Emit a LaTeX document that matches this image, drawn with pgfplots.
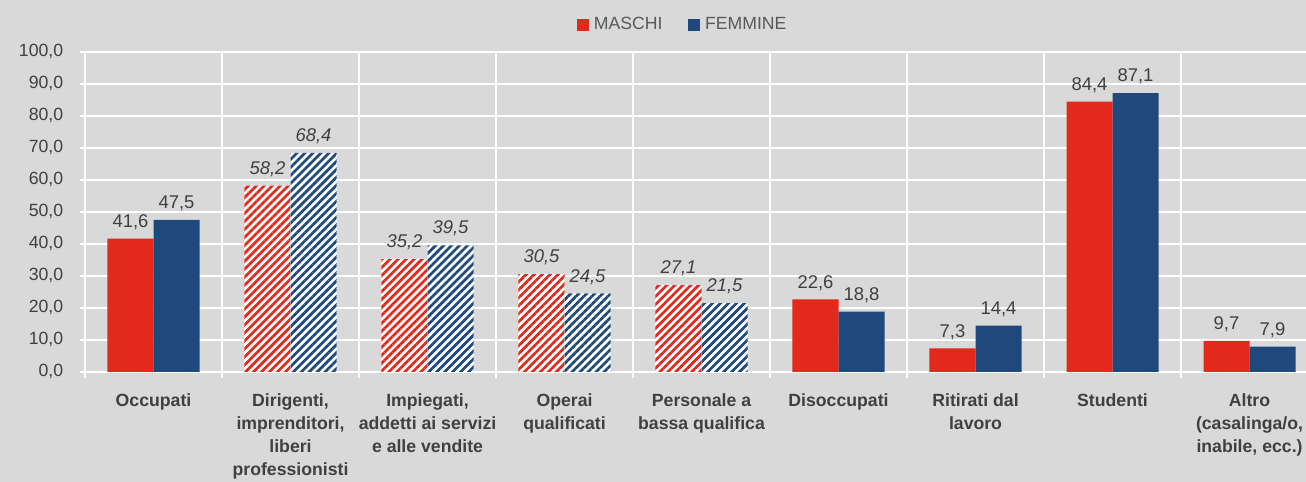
\documentclass[border=0pt]{standalone}
\usepackage{fontspec}
\setmainfont{Liberation Sans}
\usepackage{pgfplots}
\pgfplotsset{compat=1.18}
\usetikzlibrary{patterns.meta}
\definecolor{bgG}{HTML}{D9D9D9}
\definecolor{mRed}{HTML}{E3281C}
\definecolor{fBlue}{HTML}{1F497D}
\definecolor{inkD}{HTML}{404040}
\definecolor{inkL}{HTML}{595959}
\tikzset{
  hatchR/.style={fill=white, draw=none, postaction={pattern={Lines[angle=45,distance=2.2pt,line width=1.05pt]}, pattern color=mRed}},
  hatchB/.style={fill=white, draw=none, postaction={pattern={Lines[angle=45,distance=2.2pt,line width=1.05pt]}, pattern color=fBlue}},
}
\begin{document}
\begin{tikzpicture}
\fill[bgG] (-33.2pt,-43pt) rectangle (476.8pt,145.2pt);
\begin{axis}[
    at={(0,0)}, anchor=south west,
    scale only axis, width=481.5pt, height=125pt,
    xmin=-0.5, xmax=8.5, ymin=0, ymax=100,
    axis x line*=bottom, axis y line*=left,
    axis line style={white, line width=0.8pt, -},
    ytick={0,10,...,100},
    ymajorgrids, grid style={white, line width=0.6pt},
    tick align=outside, major tick length=2pt, minor tick length=2.5pt,
    every tick/.append style={white, line width=0.6pt},
    every major x tick/.append style={draw=none},
    xtick={0,...,8},
    minor xtick={-0.5,0.5,...,8.5},
    xminorgrids, minor grid style={white, line width=0.6pt},
    xticklabels={Occupati, {Dirigenti,\\imprenditori,\\liberi\\professionisti},
      {Impiegati,\\addetti ai servizi\\e alle vendite}, {Operai\\qualificati},
      {Personale a\\bassa qualifica}, Disoccupati, {Ritirati dal\\lavoro},
      Studenti, {Altro\\(casalinga/o,\\inabile, ecc.)}},
    xticklabel style={font=\fontsize{6.9}{9}\selectfont\bfseries, text=inkD,
      align=center, anchor=north, yshift=-3pt},
    yticklabel style={font=\fontsize{6.9}{8}\selectfont, text=inkD, xshift=-3pt},
    /pgf/number format/assume math mode=true,
    yticklabel={\pgfmathprintnumber[fixed, fixed zerofill, precision=1, use comma]{\tick}},
    ybar, bar width=0.336,
    nodes near coords={\pgfmathprintnumber[fixed, fixed zerofill, precision=1, use comma]{\pgfplotspointmeta}},
    every node near coord/.append style={font=\fontsize{7.2}{8}\selectfont, text=inkD},
    legend style={at={(0.486,1.084)}, anchor=center, draw=none, fill=none,
      legend columns=2, font=\fontsize{6.9}{8}\selectfont, text=inkL,
      /tikz/every even column/.append style={column sep=8pt}},
    legend image code/.code={\fill[#1] (0pt,-2.3pt) rectangle (4.6pt,2.3pt);},
    clip=false,
  ]
  \addplot[fill=mRed, draw=none, bar shift=-0.168]
    coordinates {(0,41.6) (5,22.6) (6,7.3) (7,84.4) (8,9.7)};
  \addplot[fill=fBlue, draw=none, bar shift=0.168]
    coordinates {(0,47.5) (5,18.8) (6,14.4) (7,87.1) (8,7.9)};
  \addplot[hatchR, bar shift=-0.168, forget plot,
    every node near coord/.append style={font=\fontsize{7.2}{8}\selectfont\itshape}]
    coordinates {(1,58.2) (2,35.2) (3,30.5) (4,27.1)};
  \addplot[hatchB, bar shift=0.168, forget plot,
    every node near coord/.append style={font=\fontsize{7.2}{8}\selectfont\itshape}]
    coordinates {(1,68.4) (2,39.5) (3,24.5) (4,21.5)};
  \legend{MASCHI, FEMMINE}
\end{axis}
\pgfresetboundingbox
\useasboundingbox (-33.2pt,-43pt) rectangle (476.8pt,145.2pt);
\end{tikzpicture}
\end{document}
